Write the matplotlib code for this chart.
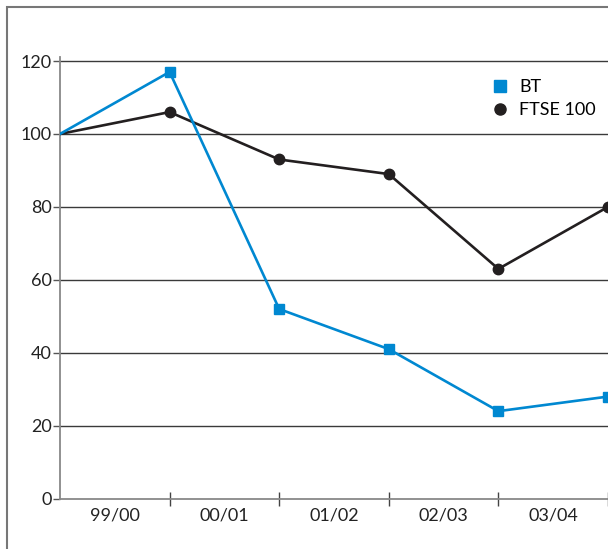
import matplotlib
matplotlib.use("Agg")
import matplotlib.pyplot as plt
from matplotlib.patches import Rectangle
from matplotlib.lines import Line2D

plt.rcParams['font.family'] = ['Lato', 'DejaVu Sans']

years = ["99/00", "00/01", "01/02", "02/03", "03/04"]
x_points = [0, 1, 2, 3, 4, 5]
bt = [100, 117, 52, 41, 24, 28]
ftse = [100, 106, 93, 89, 63, 80]
yticks = [0, 20, 40, 60, 80, 100, 120]

BLUE = "#0088D1"
BLACK = "#231F20"
GRID = "#3a3a3a"
SPINE = "#888888"

W, H = 608, 549
fig = plt.figure(figsize=(W/100, H/100), dpi=100)

# border box
fig.patches.append(Rectangle((7/W, -0.1), 1.2, (H-7)/H + 0.1, transform=fig.transFigure,
                             fill=False, edgecolor="#777777", linewidth=1.5))

left = 60/W
bottom = (H-498.7)/H
ymax = 121
top_px = 498.7 - ymax*3.6475
ax = fig.add_axes([left, bottom, 1-left, (498.7-top_px)/H])
ax.set_xlim(0, (W-60)/110.3)
ax.set_ylim(0, ymax)

for y in yticks[1:]:
    ax.axhline(y, color=GRID, lw=1.0, zorder=1)

ax.plot(x_points, ftse, color=BLACK, lw=1.9, zorder=3)
ax.plot(x_points[1:], ftse[1:], ls='none', marker='o', ms=7.5, color=BLACK, zorder=4)
ax.plot(x_points, bt, color=BLUE, lw=1.9, zorder=5)
ax.plot(x_points[1:], bt[1:], ls='none', marker='s', ms=7.7, color=BLUE, zorder=6)

for s in ['top', 'right']:
    ax.spines[s].set_visible(False)
for s in ['left', 'bottom']:
    ax.spines[s].set_color(SPINE)
    ax.spines[s].set_linewidth(1.3)

ax.set_yticks(yticks)
ax.set_yticklabels([str(v) for v in yticks], fontsize=13, color="#222222")
ax.tick_params(axis='y', length=5, width=1, color="#555555", pad=1)

ax.set_xticks([1, 2, 3, 4, 5])
ax.set_xticklabels([])
ax.tick_params(axis='x', which='major', direction='inout', length=10, width=1, color="#444444")
ax.set_xticks([0.5, 1.5, 2.5, 3.5, 4.5], minor=True)
ax.set_xticklabels(years, minor=True, fontsize=13, color="#222222")
ax.tick_params(axis='x', which='minor', length=0, pad=6)

handles = [Line2D([], [], ls='none', marker='s', ms=8, color=BLUE),
           Line2D([], [], ls='none', marker='o', ms=8, color=BLACK)]
fig.legend(handles, ["BT", "FTSE 100"], loc='upper left',
           bbox_to_anchor=(486/W, 1-70/H), frameon=False, fontsize=13,
           handlelength=0.6, handletextpad=0.75, labelspacing=0.4, borderpad=0)

fig.savefig("out.png", dpi=100)
